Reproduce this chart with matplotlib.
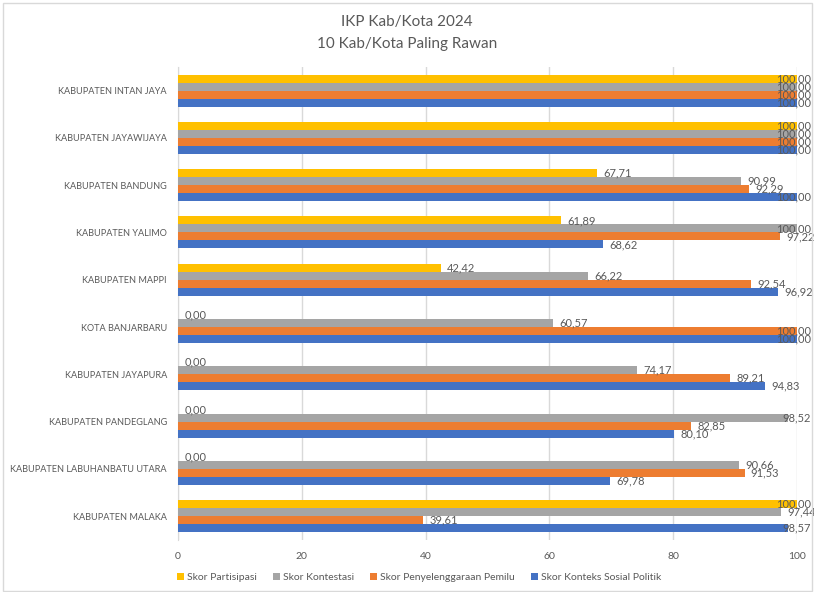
import numpy as np
import matplotlib.pyplot as plt
from matplotlib.patches import Rectangle

plt.rcParams['font.family'] = ['Lato', 'DejaVu Sans']

# data
regions = ['KABUPATEN INTAN JAYA', 'KABUPATEN JAYAWIJAYA', 'KABUPATEN BANDUNG',
           'KABUPATEN YALIMO', 'KABUPATEN MAPPI', 'KOTA BANJARBARU',
           'KABUPATEN JAYAPURA', 'KABUPATEN PANDEGLANG',
           'KABUPATEN LABUHANBATU UTARA', 'KABUPATEN MALAKA']
partisipasi = [100.00, 100.00, 67.71, 61.89, 42.42, 0.00, 0.00, 0.00, 0.00, 100.00]
kontestasi = [100.00, 100.00, 90.99, 100.00, 66.22, 60.57, 74.17, 98.52, 90.66, 97.44]
penyelenggaraan = [100.00, 100.00, 92.29, 97.22, 92.54, 100.00, 89.21, 82.85, 91.53, 39.61]
konteks = [100.00, 100.00, 100.00, 68.62, 96.92, 100.00, 94.83, 80.10, 69.78, 98.57]

series = [
    ('Skor Partisipasi', partisipasi, '#FFC000'),
    ('Skor Kontestasi', kontestasi, '#A5A5A5'),
    ('Skor Penyelenggaraan Pemilu', penyelenggaraan, '#ED7D31'),
    ('Skor Konteks Sosial Politik', konteks, '#4472C4'),
]

text_col = '#595959'
fig = plt.figure(figsize=(8.14, 5.92), dpi=100)
ax = fig.add_axes([0.2187, 0.088, 0.7604, 0.799])

# chart border
fig.patches.append(Rectangle((0.004, 0.002), 0.994, 0.993, transform=fig.transFigure,
                             fill=False, edgecolor='#D9D9D9', linewidth=1))

y = np.arange(len(regions))
h = 0.169
for i, (name, vals, col) in enumerate(series):
    pos = y + (i - 1.5) * h
    ax.barh(pos, vals, height=h, color=col, label=name, zorder=3)
    for p, v in zip(pos, vals):
        lbl = f'{v:.2f}'.replace('.', ',')
        if v + 4.8 > 102.6:
            ax.text(102.2, p, lbl, ha='right', va='center', fontsize=8,
                    color=text_col, clip_on=False, zorder=4)
        else:
            ax.annotate(lbl, (v, p), xytext=(4.5, 0), textcoords='offset points',
                        ha='left', va='center', fontsize=8, color=text_col,
                        annotation_clip=False, zorder=4)

ax.set_xlim(0, 100)
ax.set_ylim(len(regions) - 0.5, -0.5)
ax.set_xticks(range(0, 101, 20))
ax.set_yticks(y)
ax.set_yticklabels(regions)
ax.tick_params(axis='x', length=0, labelsize=7.5, colors=text_col, pad=9)
ax.tick_params(axis='y', length=0, labelsize=6.6, colors=text_col, pad=8)
ax.grid(axis='x', color='#D9D9D9', linewidth=1, zorder=0)
for s in ['top', 'right', 'bottom']:
    ax.spines[s].set_visible(False)
ax.spines['left'].set_color('#D9D9D9')

fig.text(0.5, 0.962, 'IKP Kab/Kota 2024', ha='center', va='center', fontsize=11, color=text_col)
fig.text(0.5, 0.926, '10 Kab/Kota Paling Rawan', ha='center', va='center', fontsize=11, color=text_col)

fig.legend(loc='center', bbox_to_anchor=(0.515, 0.025), ncol=4, frameon=False,
           fontsize=7.5, handlelength=0.7, handleheight=0.7, handletextpad=0.3,
           columnspacing=1.5, labelcolor=text_col)

fig.savefig('out.png', dpi=100)
